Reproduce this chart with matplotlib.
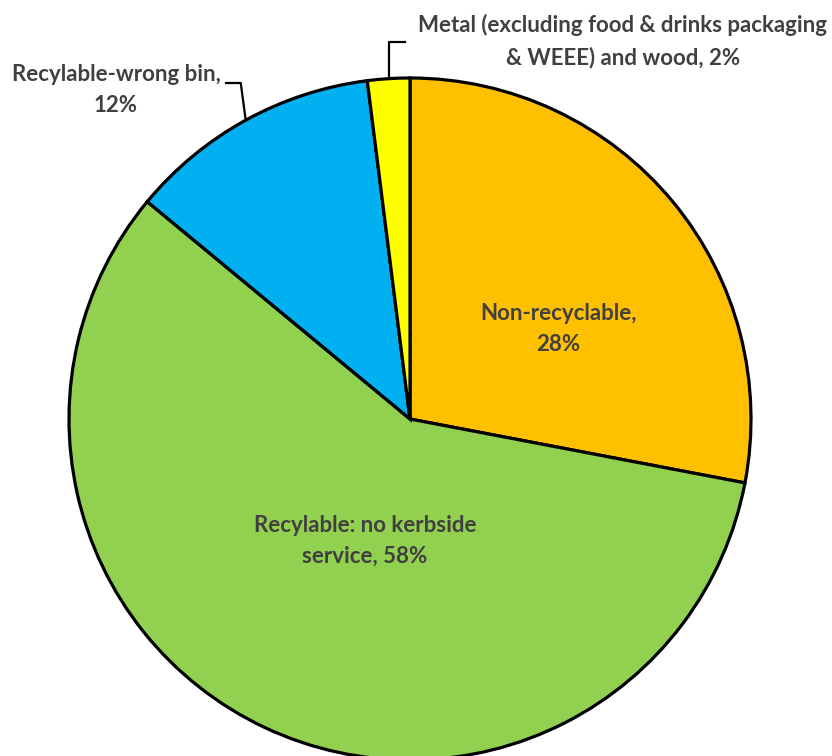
import numpy as np
import matplotlib.pyplot as plt

plt.rcParams['font.family'] = ['Lato', 'DejaVu Sans']

labels = ["Non-recyclable,\n28%",
          "Recylable: no kerbside\nservice, 58%",
          "Recylable-wrong bin,\n12%",
          "Metal (excluding food & drinks packaging\n& WEEE) and wood, 2%"]
values = [28, 58, 12, 2]
colors = ['#FFC000', '#92D050', '#00B0F0', '#FFFF00']

W, H = 832, 756
fig = plt.figure(figsize=(W / 100, H / 100), dpi=100)
ax = fig.add_axes([0, 0, 1, 1])

cx, cy, r = 410, H - 419, 341
wedges, _ = ax.pie(values, colors=colors, startangle=90, counterclock=False,
                   center=(cx, cy), radius=r, frame=True,
                   wedgeprops=dict(edgecolor='black', linewidth=2.3))
ax.set_xlim(0, W)
ax.set_ylim(0, H)
ax.set_aspect('equal')
ax.axis('off')

txt = dict(color='#404040', fontsize=16, fontweight='bold', ha='center',
           va='center', linespacing=1.6)

# labels inside the big slices
ax.text(558, H - 329, labels[0], **txt)
ax.text(365, H - 541, labels[1], **txt)

# outside labels with leader lines
def edge_point(w):
    mid = np.deg2rad((w.theta1 + w.theta2) / 2)
    return cx + r * np.cos(mid), cy + r * np.sin(mid)

ex, ey = edge_point(wedges[2])
ax.plot([ex, ex - 5, 226], [ey, H - 83, H - 83], color='black', lw=1.6)
ax.text(116, H - 90, labels[2], **txt)

ex, ey = edge_point(wedges[3])
ax.plot([ex, ex, 405], [ey, H - 42, H - 42], color='black', lw=1.6)
ax.text(623, H - 41, labels[3], **txt)

fig.savefig("out.png", dpi=100)
